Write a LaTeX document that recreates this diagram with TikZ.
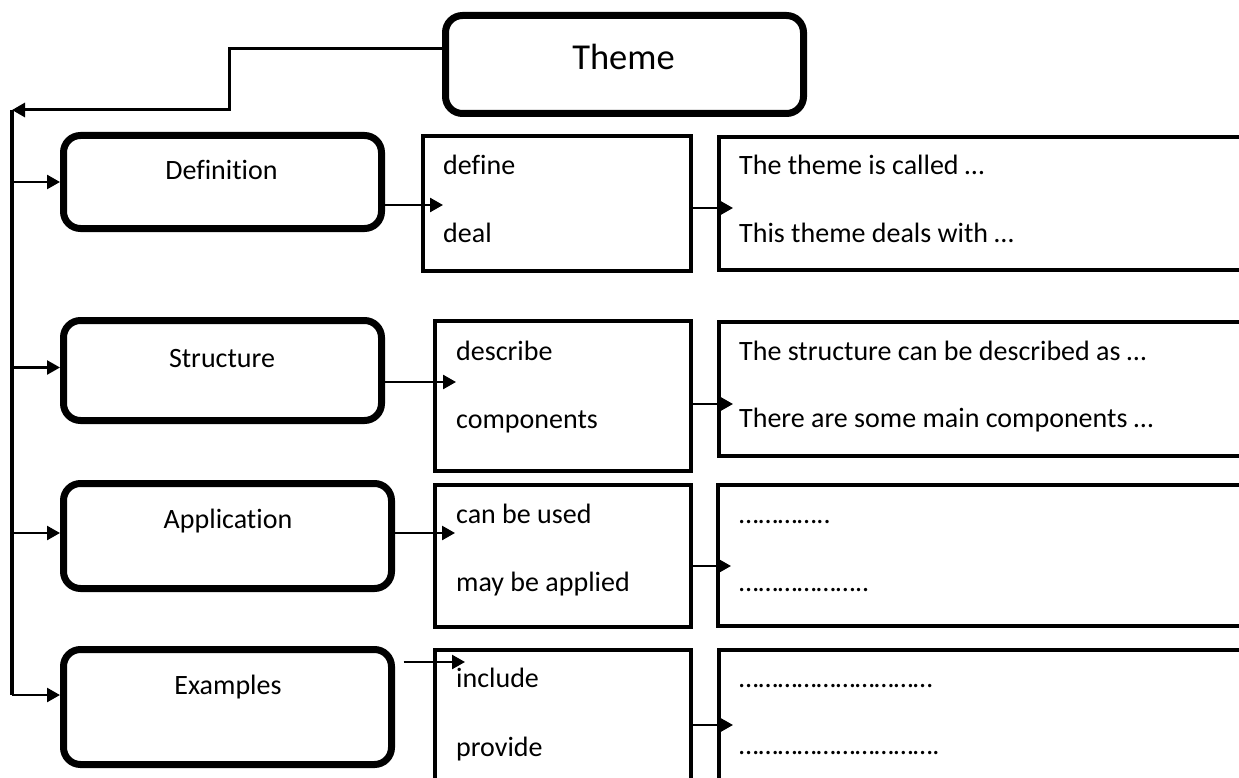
\documentclass[tikz,border=0pt]{standalone}
\usepackage{fontspec}
\setmainfont{Carlito}[Ligatures=NoCommon]
\usetikzlibrary{arrows.meta}
\begin{document}
\begin{tikzpicture}[x=1pt,y=-1pt,
  rbox/.style={draw, line width=7pt, rounded corners=17pt, inner sep=0pt},
  mbox/.style={draw, line width=4pt, inner sep=0pt},
  conn/.style={line width=2.5pt, -{Triangle[length=13pt,width=14pt]}},
  lbl/.style={font=\fontsize{28}{32}\selectfont, inner sep=0pt, anchor=base},
  txt/.style={font=\fontsize{28}{32}\selectfont, inner sep=0pt, anchor=base west}]
\clip (0,0) rectangle (1239,778);
\fill[white] (0,0) rectangle (1239,778);
% main rounded boxes
\node[rbox, minimum width=358pt, minimum height=98pt] (theme) at (624.5,64.5) {};
\node[rbox, minimum width=318pt, minimum height=93pt] (def) at (222.5,182) {};
\node[rbox, minimum width=318pt, minimum height=100pt] (struct) at (222.5,370.5) {};
\node[rbox, minimum width=328pt, minimum height=105pt] (app) at (227.5,536) {};
\node[rbox, minimum width=328pt, minimum height=115pt] (ex) at (227.5,707) {};
% labels
\node[lbl, font=\fontsize{36.5}{40}\selectfont] (themet) at (623.5,70) {Theme};
\node[lbl] (deft) at (221.5,180) {Definition};
\node[lbl] (structt) at (222,367) {Structure};
\node[lbl] (appt) at (228,528) {Application};
\node[lbl] (ext) at (228,694) {Examples};
% middle boxes
\node[mbox, minimum width=268pt, minimum height=135pt] (defmid) at (557,203.5) {};
\node[mbox, minimum width=256pt, minimum height=150pt] (structmid) at (563,396) {};
\node[mbox, minimum width=256pt, minimum height=142pt] (appmid) at (563,556) {};
\node[mbox, minimum width=256pt, minimum height=140pt] (exmid) at (563,720) {};
% right boxes
\node[mbox, minimum width=541pt, minimum height=133pt] (defr) at (989.5,203.5) {};
\node[mbox, minimum width=541pt, minimum height=134pt] (structr) at (989.5,389) {};
\node[mbox, minimum width=542pt, minimum height=141pt] (appr) at (989,555.5) {};
\node[mbox, minimum width=541pt, minimum height=140pt] (exr) at (989.5,720) {};
% middle texts
\node[txt] (t1) at (443,175) {define};
\node[txt] (t2) at (443,242) {deal};
\node[txt] (t3) at (456,360) {describe};
\node[txt] (t4) at (456,428) {components};
\node[txt] (t5) at (456,523) {can be used};
\node[txt] (t6) at (456,591) {may be applied};
\node[txt] (t7) at (456,687) {include};
\node[txt] (t8) at (456,756) {provide};
% right texts
\node[txt] (r1) at (739,175) {The theme is called …};
\node[txt] (r2) at (739,242) {This theme deals with …};
\node[txt] (r3) at (739,360) {The structure can be described as …};
\node[txt] (r4) at (739,427) {There are some main components …};
\node[txt] (r5) at (739,523) {…………..};
\node[txt] (r6) at (739,591) {………………..};
\node[txt] (r7) at (739,687) {…………………………};
\node[txt] (r8) at (739,754) {………………………….};
% trunk
\coordinate (c1) at (229,49);
\coordinate (c2) at (229,110);
\coordinate (trunktop) at (12,110);
\coordinate (trunkbot) at (12,695);
\draw[conn, line width=3pt] (theme.west |- c1) -- (c1) -- (c2) -- (trunktop);
\draw[line width=4pt] (trunktop) -- (trunkbot);
% branches
\coordinate (sw) at ([yshift=3pt]struct.west);
\coordinate (aw) at ([yshift=3pt]app.west);
\draw[conn] (trunktop |- def.west) -- (def.west);
\draw[conn] (trunktop |- sw) -- (sw);
\draw[conn] (trunktop |- aw) -- (aw);
\draw[conn] (trunkbot) -- (trunkbot -| ex.west);
% box to middle
\draw[conn] ([yshift=-23pt]def.east) -- ([xshift=22pt,yshift=-1.5pt]defmid.west);
\draw[conn] ([yshift=-11.5pt]struct.east) -- ([xshift=23pt,yshift=14pt]structmid.west);
\draw[conn] ([yshift=3pt]app.east) -- ([xshift=22pt,yshift=23pt]appmid.west);
\draw[conn] ([xshift=8.5pt,yshift=45pt]ex.east) -- ([xshift=32pt,yshift=58pt]exmid.west);
% middle to right
\draw[conn] ([yshift=-4.5pt]defmid.east) -- ([xshift=16pt,yshift=-4.5pt]defr.west);
\draw[conn] ([yshift=-8pt]structmid.east) -- ([xshift=16pt,yshift=-15pt]structr.west);
\draw[conn] ([yshift=-10pt]appmid.east) -- ([xshift=15pt,yshift=-10.5pt]appr.west);
\draw[conn] ([yshift=-5pt]exmid.east) -- ([xshift=16pt,yshift=-5pt]exr.west);
\end{tikzpicture}
\end{document}
